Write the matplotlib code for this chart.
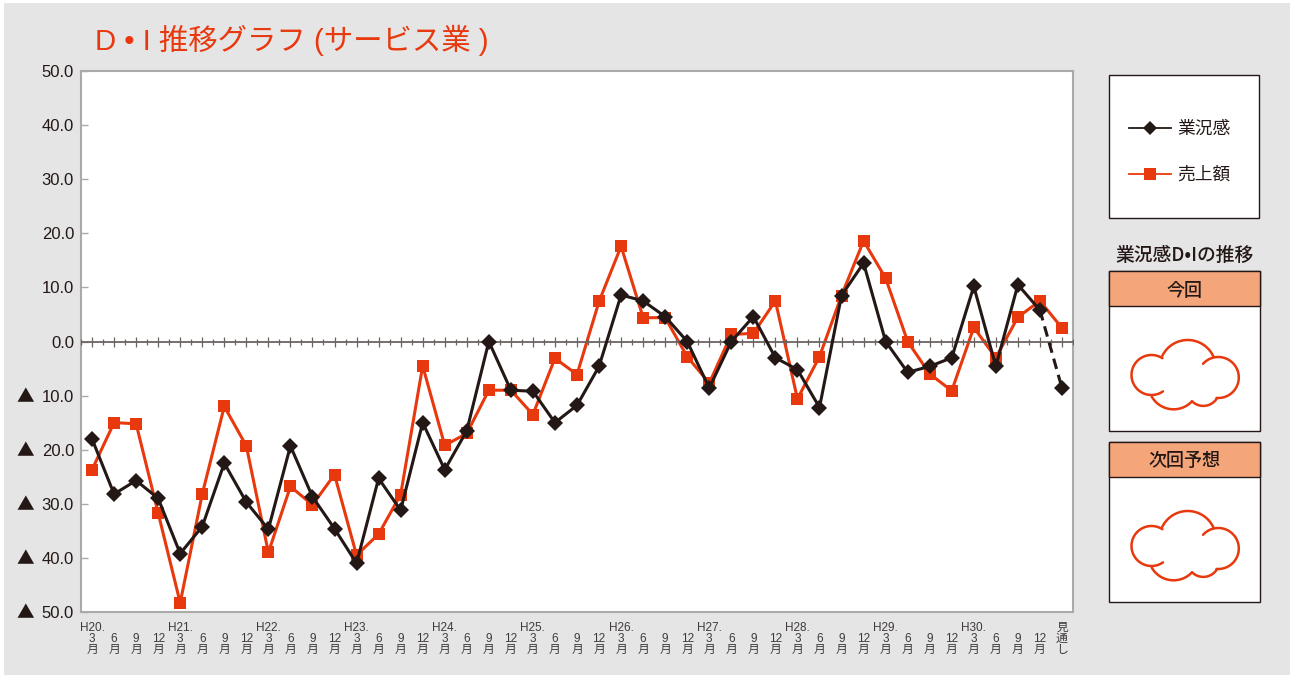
import numpy as np
import matplotlib
matplotlib.use("Agg")
import matplotlib.pyplot as plt
from matplotlib.patches import Rectangle

plt.rcParams['font.family'] = ['Liberation Sans', 'Noto Sans CJK JP', 'DejaVu Sans']

W, H = 1290, 675
RED = '#e8380d'
DARK = '#231815'
CJK = ['Noto Sans CJK JP', 'DejaVu Sans']

# survey points, H20.3 to H30.12 then the outlook
years = ['H20.', 'H21.', 'H22.', 'H23.', 'H24.', 'H25.', 'H26.', 'H27.', 'H28.', 'H29.', 'H30.']
months = ['3', '6', '9', '12']
outlook_label = '見\n通\nし'

gyoukyou = [-18, -28.2, -25.7, -29, -39.2, -34.2, -22.5, -29.7, -34.7, -19.3, -28.7,
            -34.6, -41, -25.3, -31.2, -15, -23.7, -16.5, 0, -9, -9.2, -15,
            -11.8, -4.6, 8.6, 7.5, 4.6, 0, -8.6, 0, 4.6, -3, -5.2, -12.2,
            8.5, 14.5, 0, -5.7, -4.6, -3, 10.2, -4.6, 10.5, 5.8, -8.6]
uriage = [-23.7, -15, -15.2, -31.7, -48.3, -28.2, -12, -19.3, -39, -26.8, -30.2,
          -24.6, -39.5, -35.6, -28.3, -4.5, -19.2, -17, -9, -9, -13.5, -3.1,
          -6.1, 7.4, 17.6, 4.4, 4.4, -2.8, -7.7, 1.3, 1.5, 7.5, -10.6, -2.8,
          8.5, 18.6, 11.7, 0, -6, -9.1, 2.6, -3, 4.5, 7.5, 2.5]
y_ticks = [50, 40, 30, 20, 10, 0, -10, -20, -30, -40, -50]


def x_labels():
    out = []
    for y in years:
        for i, m in enumerate(months):
            top = y if i == 0 else ''
            out.append(top + '\n' + m + '\n月')
    out.append(outlook_label)
    return out


fig = plt.figure(figsize=(W / 100, H / 100), dpi=100, facecolor='white')

# page coloured panel plus the boxes on the right, in pixel coords
bg = fig.add_axes([0, 0, 1, 1], zorder=0)
bg.axis('off')
bg.add_patch(Rectangle((4, 3), W - 4, H - 3, fc='#e5e5e5', ec='none'))


def cloud(ax, dy):
    # arcs: cx, cy, r, start, end (degrees, y up)
    arcs = [(1151.5, 375, 20, 57, 305), (1187.7, 368.3, 28.3, 24, 154), (1218.3, 377.5, 20.5, -95, 138),
            (1203.3, 389.9, 16, -135, -32), (1173.6, 384.1, 25.2, -150, -44)]
    for cx, cy, r, a, b in arcs:
        t = np.radians(np.linspace(a, b, 60))
        ax.plot(cx + r * np.cos(t), cy + dy - r * np.sin(t), color=RED, lw=1.8, solid_capstyle='round')


bg.add_patch(Rectangle((1109, 75), 150, 143, fc='white', ec=DARK, lw=1))
for top, bottom, title in [(271, 431, '今回'), (442, 602, '次回予想')]:
    bg.add_patch(Rectangle((1109, top), 151, bottom - top, fc='white', ec=DARK, lw=1))
    bg.add_patch(Rectangle((1109, top), 151, 35, fc='#f4a57a', ec=DARK, lw=1))
    bg.text(1184.5, top + 19.5, title, ha='center', va='center', fontsize=13, color=DARK,
            family=CJK, fontweight='medium')
    cloud(bg, top - 271)
bg.text(1184.5, 255, '業況感D•Iの推移', ha='center', va='center', fontsize=13.5, color=DARK,
        family=CJK, fontweight='medium')
bg.text(95, 40, 'D • I 推移グラフ (サービス業 )', ha='left', va='center', fontsize=21.2, color=RED)

# main chart
ax = fig.add_axes([81 / W, 1 - 612 / H, (1073 - 81) / W, (612 - 71) / H], zorder=1)
ax.set_facecolor('white')
x = np.arange(len(gyoukyou))
ax.set_xlim(-0.5, len(x) - 0.5)
ax.set_ylim(-50, 50)

# zero line, long ticks on the points and short ones between
ZERO = '#6a6361'
ax.plot(x, np.zeros(len(x)), color=ZERO, lw=0, marker='|', ms=7, mew=0.9, zorder=3.6)
between = np.arange(len(x) + 1) - 0.5
ax.plot(between, np.zeros(len(between)), color=ZERO, lw=1.3, marker='|', ms=5, mew=0.9, zorder=3.6)

ax.plot(x, uriage, color=RED, lw=2.2, zorder=3)
ax.plot(x[-2:], gyoukyou[-2:], color='white', lw=4, zorder=3.5)
ax.plot(x, uriage, color=RED, lw=0, marker='s', ms=8.6, mew=0, zorder=3.7)
ax.plot(x[:-1], gyoukyou[:-1], color=DARK, lw=2.2, zorder=4)
ax.plot(x[-2:], gyoukyou[-2:], color=DARK, lw=2.2, ls=(0, (3.5, 2)), zorder=4)
ax.plot(x, gyoukyou, color=DARK, lw=0, marker='D', ms=8.4, mew=0, zorder=4)

ax.set_yticks(y_ticks, ['%.1f' % abs(v) for v in y_ticks])
ax.set_xticks(x, x_labels())
ax.tick_params(axis='y', direction='in', length=5, width=1, color='#aaaaaa', labelsize=12, labelcolor=DARK, pad=5)
ax.tick_params(axis='x', length=0, labelsize=8.5, labelcolor='#3e3a39', pad=7)
for lab in ax.get_xticklabels():
    lab.set_linespacing(0.9)
for s in ax.spines.values():
    s.set_color('#aaaaaa')
    s.set_linewidth(1.5)

# the negative values carry a triangle instead of a minus sign
for v in y_ticks:
    if v < 0:
        ax.annotate('▲', (0, v), xycoords=ax.get_yaxis_transform(), xytext=(-55.5 * 0.72, -1.2),
                    textcoords='offset points', ha='center', va='center', fontsize=12.7,
                    color=DARK, family=CJK, annotation_clip=False)

# legend, inside the box right of the plot
lx0, lx1 = 1129, 1171
for ly, c, m, ms, name in [(127.5, DARK, 'D', 7.6, '業況感'), (173.5, RED, 's', 9, '売上額')]:
    bg.plot([lx0, lx1], [ly, ly], color=c, lw=1.3)
    bg.plot([(lx0 + lx1) / 2], [ly], color=c, marker=m, ms=ms, mew=0)
    bg.text(1177, ly + 1, name, ha='left', va='center', fontsize=12.8, color=DARK, family=CJK)
bg.set_xlim(0, W)
bg.set_ylim(H, 0)

fig.savefig('out.png', dpi=100, facecolor=fig.get_facecolor())
